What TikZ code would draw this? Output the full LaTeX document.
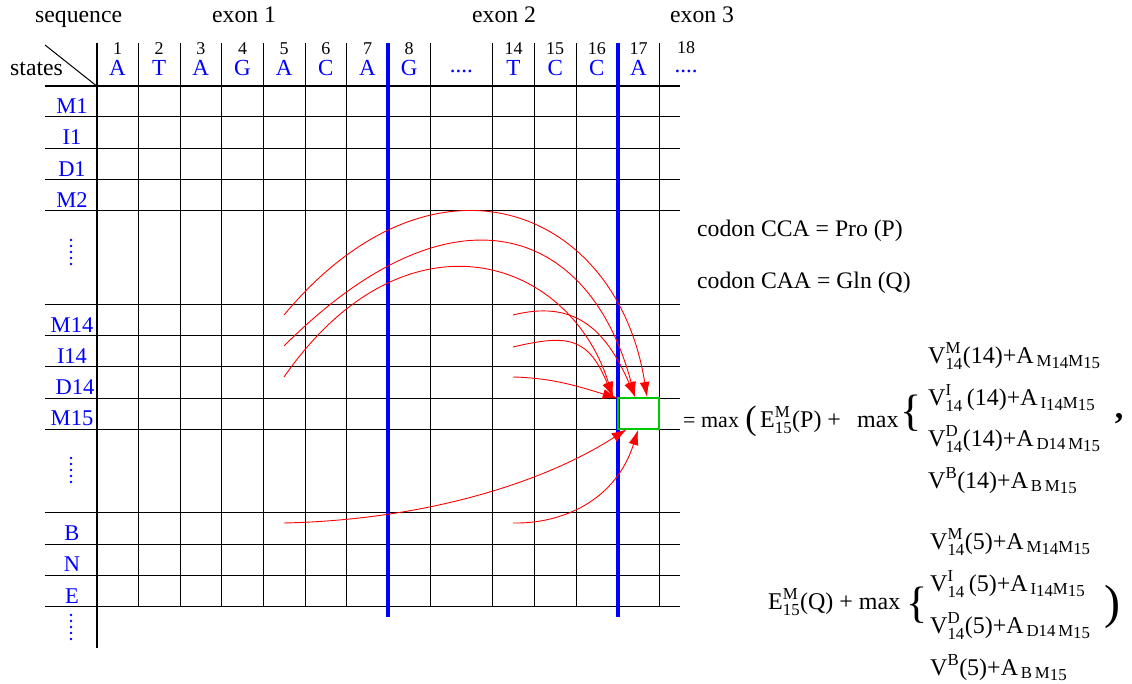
\documentclass[tikz,border=0pt]{standalone}
\usepackage{amsmath}
\usepackage{fontspec}
\setmainfont{Liberation Serif}
\usetikzlibrary{arrows.meta,calc}
\definecolor{gbox}{RGB}{0,200,0}
\newcommand\fs[1]{\fontsize{#1}{#1}\selectfont}
\newcommand\lowsub[1]{\raisebox{-1.5pt}{#1}}
\begin{document}
\begin{tikzpicture}[x=1pt,y=-1pt,
  gridline/.style={line width=1pt,black},
  thickline/.style={line width=1.6pt,black},
  exonline/.style={line width=4pt,blue},
  arr/.style={red,line width=0.9pt,-{Latex[length=15pt,width=10pt]}},
  lab/.style={font=\fs{23.7},anchor=base west,inner sep=0},
  numlab/.style={font=\fs{18},anchor=base,inner sep=0},
  seqlet/.style={font=\fs{23},text=blue,anchor=base,inner sep=0},
  rowlab/.style={font=\fs{22.5},text=blue,anchor=base,inner sep=0},
  fml/.style={font=\fs{24},anchor=base west,inner sep=0},
  bigdelim/.style={anchor=base,inner sep=0}]
\useasboundingbox (0,0) rectangle (1132,684);
% grid
\foreach \x in {138.3,180,221.7,263.3,305,346.7,430,492.7,534.3,576,659.3}
  \draw[gridline] (\x,43) -- (\x,606.7);
\foreach \y in {116.7,148.3,180,210.7,304.3,335.7,366.7,398.3,429.3,512.7,544,575.3,606.7}
  \draw[gridline] (45,\y) -- (680,\y);
\draw[thickline] (45,86) -- (680,86);
\draw[thickline] (96.7,43) -- (96.7,648);
\draw[line width=1pt] (45,45) -- (96.7,86);
\draw[exonline] (388.3,43) -- (388.3,616.7);
\draw[exonline] (617.7,43) -- (617.7,616.7);
% header texts
\node[lab] (seq) at (35,22.5) {sequence};
\node[lab] (ex1) at (212,22.5) {exon 1};
\node[lab] (ex2) at (472,22.5) {exon 2};
\node[lab] (ex3) at (670,22.5) {exon 3};
\node[lab] (states) at (10,76) {states};
\foreach \c/\n/\l [count=\i] in {117.5/1/A,159.2/2/T,200.8/3/A,242.5/4/G,284.2/5/A,325.8/6/C,367.5/7/A,409.2/8/G,513.5/14/T,555.2/15/C,596.8/16/C,638.5/17/A}{
  \node[numlab] (num\i) at (\c,55) {\n};
  \node[seqlet] (let\i) at (\c,76) {\l};
}
\node[seqlet] (dotsA) at (461.3,72.5) {....};
\node[numlab] (num18) at (686,54) {18};
\node[seqlet] (dotsB) at (686,73) {....};
% row labels
\foreach \y/\t [count=\i] in {113.2/M1,144.8/I1,176.5/D1,207.2/M2,332.2/M14,363.2/I14,425.8/M15,540.5/B,571.8/N,603.2/E}
  \node[rowlab] (row\i) at (72,\y) {\t};
\node[rowlab] (rowD14) at (75,394.8) {D14};
\foreach \yc in {252,470,627}
  \foreach \k in {-2,-1,0,1,2}
    \fill[blue] (71,\yc+6*\k) circle (1.3);
% target cell
\coordinate (m15nw) at (617.7,398.3);
\coordinate (m15se) at (659.3,429.3);
\draw[draw=gbox,line width=2pt] (m15nw) rectangle (m15se);
\node[inner sep=0,outer sep=0,minimum width=41.6pt,minimum height=31pt] (m15) at (638.5,413.8) {};
% arrows
\coordinate (s1) at (284,315);
\coordinate (s2) at (284,346);
\coordinate (s3) at (284,377);
\coordinate (s4) at (513,315);
\coordinate (s5) at (513,347);
\coordinate (s6) at (513,377);
\coordinate (s7) at (284,523);
\coordinate (s8) at (513,523);
\coordinate (t1) at (647,397);
\coordinate (t2) at (635,397);
\coordinate (t3) at (613,397);
\coordinate (t6) at (m15nw);
\coordinate (t7) at (626.7,429.3);
\coordinate (t8) at (638,430);
\draw[arr] (s1) .. controls +(150,-180) and +(-30,-190) .. (t1);
\draw[arr] (s2) .. controls +(170,-170) and +(-45,-170) .. (t2);
\draw[arr] (s3) .. controls +(119.7,-172.2) and +(-45,-142.5) .. (t3);
\draw[arr] (s4) .. controls +(60,-15) and +(-30,-70) .. (t2);
\draw[arr] (s5) .. controls +(55,-13) and +(-25,-60) .. (t3);
\draw[arr] (s6) .. controls +(40,1) and +(-40,-12) .. (t6);
\draw[arr] (s7) .. controls +(136,-3) and +(-86.7,55.7) .. (t7);
\draw[arr] (s8) .. controls +(50,1) and +(-22,70) .. (t8);
% codon texts
\node[lab] (codP) at (697,237) {codon CCA = Pro (P)};
\node[lab] (codQ) at (697,289) {codon CAA = Gln (Q)};
% formula 1
\node[fml,font=\fs{22}] (eqmax) at (683,427) {= max};
\node[bigdelim,font=\fs{34}] (lpar) at (751,429) {(};
\node[fml] (eP) at (760,427) {$\text{E}^{\text{M}}_{\text{15}}$(P) +};
\node[fml] (max1) at (857,427) {max};
\node[bigdelim,font=\fs{44}] (br1) at (911,425) {\{};
\node[fml] (f1a) at (928,363) {$\text{V}^{\text{M}}_{\text{14}}$(14)+$\text{A}_{\,\text{M\lowsub{14}M\lowsub{15}}}$};
\node[fml] (f1b) at (928,405) {$\text{V}^{\text{I}}_{\text{14}}$\,(14)+$\text{A}_{\,\text{I\lowsub{14}M\lowsub{15}}}$};
\node[fml] (f1c) at (928,446) {$\text{V}^{\text{D}}_{\text{14}}$(14)+$\text{A}_{\,\text{D14\,M\lowsub{15}}}$};
\node[fml] (f1d) at (928,488) {$\text{V}^{\text{B}}$(14)+$\text{A}_{\,\text{B\,M\lowsub{15}}}$};
\node[bigdelim,font=\bfseries\fs{34}] (comma) at (1119,418) {,};
% formula 2
\node[fml] (eQ) at (768,609) {$\text{E}^{\text{M}}_{\text{15}}$(Q) + max};
\node[bigdelim,font=\fs{44}] (br2) at (917,617) {\{};
\node[fml] (f2a) at (930,549) {$\text{V}^{\text{M}}_{\text{14}}$(5)+$\text{A}_{\,\text{M\lowsub{14}M\lowsub{15}}}$};
\node[fml] (f2b) at (930,591) {$\text{V}^{\text{I}}_{\text{14}}$\,(5)+$\text{A}_{\,\text{I\lowsub{14}M\lowsub{15}}}$};
\node[fml] (f2c) at (930,633) {$\text{V}^{\text{D}}_{\text{14}}$(5)+$\text{A}_{\,\text{D14\,M\lowsub{15}}}$};
\node[fml] (f2d) at (930,675) {$\text{V}^{\text{B}}$(5)+$\text{A}_{\,\text{B\,M\lowsub{15}}}$};
\node[bigdelim,font=\fs{48}] (rpar) at (1112,618) {)};
\end{tikzpicture}
\end{document}
